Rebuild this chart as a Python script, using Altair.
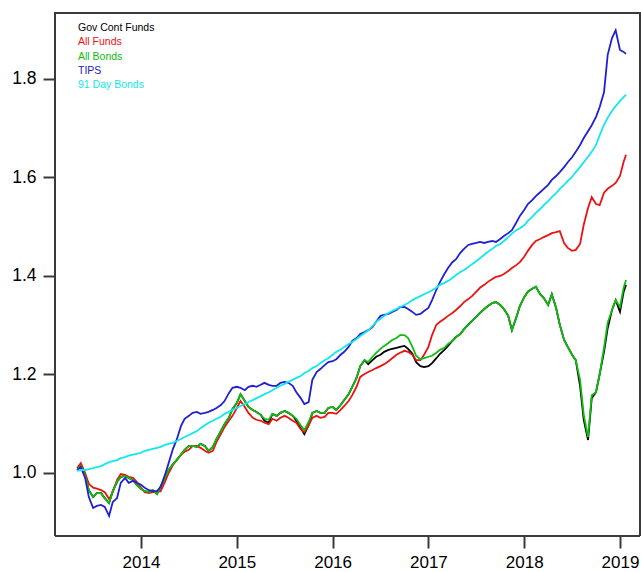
import altair as alt
import pandas as pd

# Semi-monthly observation dates, May 2013 through late January 2019
dates = []
for yr in range(2013, 2019):
    for mo in range(1, 13):
        if (yr, mo) < (2013, 5):
            continue
        for dy in (1, 15):
            dates.append(f"{yr}-{mo:02d}-{dy:02d}")
dates += ["2019-01-01", "2019-01-15", "2019-01-24"]

series_names = ["Gov Cont Funds", "All Funds", "All Bonds", "TIPS", "91 Day Bonds"]
series_colors = ["#000000", "#ee1111", "#11bb11", "#2020d0", "#11e8ee"]

gov_cont_funds = [
    1.006, 1.014, 0.994, 0.965, 0.951, 0.959, 0.959, 0.949, 0.939, 0.963,
    0.982, 0.992, 0.994, 0.990, 0.986, 0.976, 0.968, 0.963, 0.961, 0.965,
    0.957, 0.972, 0.990, 1.006, 1.018, 1.026, 1.037, 1.047, 1.055, 1.055,
    1.053, 1.059, 1.055, 1.045, 1.053, 1.069, 1.085, 1.099, 1.112, 1.130,
    1.142, 1.160, 1.146, 1.134, 1.128, 1.124, 1.118, 1.106, 1.102, 1.120,
    1.116, 1.122, 1.126, 1.122, 1.116, 1.106, 1.091, 1.079, 1.097, 1.122,
    1.126, 1.122, 1.122, 1.132, 1.134, 1.128, 1.138, 1.148, 1.160, 1.175,
    1.193, 1.217, 1.229, 1.221, 1.229, 1.236, 1.240, 1.246, 1.250, 1.252,
    1.254, 1.256, 1.258, 1.252, 1.242, 1.225, 1.217, 1.215, 1.217, 1.223,
    1.233, 1.242, 1.250, 1.258, 1.268, 1.276, 1.282, 1.292, 1.301, 1.309,
    1.317, 1.325, 1.333, 1.339, 1.345, 1.347, 1.341, 1.333, 1.319, 1.290,
    1.315, 1.339, 1.357, 1.368, 1.374, 1.378, 1.363, 1.355, 1.341, 1.363,
    1.335, 1.301, 1.270, 1.256, 1.240, 1.229, 1.177, 1.108, 1.067, 1.152,
    1.164, 1.201, 1.246, 1.294, 1.331, 1.351, 1.327, 1.368, 1.382,
]

all_funds = [
    1.010, 1.020, 1.000, 0.978, 0.970, 0.968, 0.965, 0.961, 0.947, 0.961,
    0.986, 0.998, 0.996, 0.992, 0.990, 0.982, 0.970, 0.961, 0.959, 0.961,
    0.961, 0.963, 0.982, 1.000, 1.016, 1.026, 1.037, 1.043, 1.047, 1.055,
    1.055, 1.051, 1.045, 1.041, 1.045, 1.063, 1.079, 1.093, 1.106, 1.116,
    1.132, 1.146, 1.134, 1.122, 1.112, 1.108, 1.106, 1.102, 1.099, 1.110,
    1.106, 1.112, 1.116, 1.112, 1.106, 1.102, 1.089, 1.083, 1.097, 1.112,
    1.116, 1.112, 1.114, 1.122, 1.122, 1.120, 1.128, 1.136, 1.146, 1.158,
    1.175, 1.195, 1.201, 1.205, 1.209, 1.213, 1.217, 1.221, 1.227, 1.233,
    1.240, 1.244, 1.248, 1.246, 1.240, 1.229, 1.229, 1.240, 1.256, 1.280,
    1.301, 1.307, 1.313, 1.319, 1.325, 1.331, 1.339, 1.347, 1.353, 1.359,
    1.368, 1.376, 1.382, 1.388, 1.394, 1.398, 1.400, 1.404, 1.410, 1.416,
    1.422, 1.428, 1.439, 1.451, 1.463, 1.471, 1.475, 1.479, 1.483, 1.487,
    1.489, 1.491, 1.467, 1.457, 1.451, 1.453, 1.465, 1.504, 1.538, 1.560,
    1.546, 1.544, 1.569, 1.577, 1.583, 1.589, 1.603, 1.632, 1.646,
]

all_bonds = [
    1.006, 1.014, 0.994, 0.965, 0.951, 0.959, 0.959, 0.949, 0.939, 0.963,
    0.982, 0.992, 0.994, 0.990, 0.986, 0.976, 0.968, 0.963, 0.961, 0.965,
    0.957, 0.972, 0.990, 1.006, 1.018, 1.026, 1.037, 1.047, 1.055, 1.055,
    1.053, 1.059, 1.055, 1.045, 1.053, 1.069, 1.085, 1.099, 1.112, 1.130,
    1.142, 1.160, 1.146, 1.134, 1.128, 1.124, 1.118, 1.110, 1.108, 1.120,
    1.116, 1.122, 1.126, 1.122, 1.116, 1.110, 1.097, 1.087, 1.104, 1.122,
    1.126, 1.122, 1.122, 1.132, 1.134, 1.128, 1.138, 1.148, 1.160, 1.175,
    1.193, 1.217, 1.229, 1.225, 1.236, 1.244, 1.252, 1.258, 1.264, 1.270,
    1.274, 1.280, 1.280, 1.274, 1.256, 1.238, 1.231, 1.233, 1.236, 1.238,
    1.244, 1.250, 1.254, 1.262, 1.268, 1.276, 1.282, 1.292, 1.301, 1.309,
    1.317, 1.325, 1.333, 1.339, 1.345, 1.347, 1.341, 1.333, 1.319, 1.290,
    1.315, 1.339, 1.357, 1.368, 1.374, 1.378, 1.363, 1.355, 1.341, 1.363,
    1.335, 1.301, 1.270, 1.256, 1.240, 1.229, 1.189, 1.118, 1.073, 1.158,
    1.164, 1.201, 1.254, 1.305, 1.331, 1.351, 1.337, 1.376, 1.392,
]

tips = [
    1.006, 1.012, 0.990, 0.951, 0.929, 0.933, 0.935, 0.931, 0.913, 0.941,
    0.949, 0.980, 0.990, 0.980, 0.984, 0.980, 0.976, 0.970, 0.965, 0.963,
    0.963, 0.972, 0.996, 1.020, 1.049, 1.067, 1.095, 1.110, 1.116, 1.122,
    1.124, 1.120, 1.122, 1.124, 1.128, 1.132, 1.138, 1.146, 1.162, 1.173,
    1.175, 1.173, 1.168, 1.175, 1.177, 1.175, 1.179, 1.183, 1.179, 1.177,
    1.177, 1.183, 1.185, 1.183, 1.177, 1.164, 1.152, 1.140, 1.144, 1.189,
    1.205, 1.211, 1.219, 1.225, 1.227, 1.231, 1.240, 1.246, 1.256, 1.268,
    1.274, 1.282, 1.286, 1.290, 1.296, 1.307, 1.319, 1.321, 1.323, 1.327,
    1.331, 1.337, 1.337, 1.333, 1.327, 1.321, 1.323, 1.329, 1.335, 1.351,
    1.372, 1.388, 1.404, 1.416, 1.428, 1.434, 1.447, 1.455, 1.463, 1.465,
    1.467, 1.469, 1.467, 1.469, 1.471, 1.469, 1.475, 1.481, 1.487, 1.493,
    1.508, 1.522, 1.534, 1.546, 1.554, 1.562, 1.570, 1.577, 1.585, 1.595,
    1.603, 1.611, 1.621, 1.631, 1.641, 1.652, 1.666, 1.680, 1.694, 1.706,
    1.723, 1.743, 1.773, 1.849, 1.883, 1.899, 1.859, 1.855, 1.851,
]

day91_bonds = [
    1.004, 1.006, 1.006, 1.008, 1.010, 1.012, 1.014, 1.018, 1.022, 1.024,
    1.026, 1.030, 1.032, 1.035, 1.037, 1.039, 1.041, 1.045, 1.047, 1.049,
    1.051, 1.053, 1.057, 1.059, 1.061, 1.065, 1.069, 1.073, 1.077, 1.081,
    1.085, 1.091, 1.097, 1.102, 1.106, 1.110, 1.114, 1.120, 1.124, 1.128,
    1.132, 1.136, 1.140, 1.144, 1.148, 1.152, 1.156, 1.160, 1.164, 1.168,
    1.173, 1.177, 1.181, 1.185, 1.189, 1.193, 1.197, 1.203, 1.207, 1.213,
    1.217, 1.223, 1.229, 1.233, 1.240, 1.246, 1.250, 1.256, 1.262, 1.266,
    1.272, 1.278, 1.284, 1.290, 1.298, 1.307, 1.313, 1.319, 1.325, 1.329,
    1.333, 1.337, 1.341, 1.345, 1.351, 1.355, 1.359, 1.363, 1.367, 1.371,
    1.376, 1.382, 1.386, 1.390, 1.396, 1.402, 1.408, 1.412, 1.418, 1.424,
    1.430, 1.436, 1.443, 1.449, 1.455, 1.461, 1.465, 1.471, 1.479, 1.486,
    1.493, 1.497, 1.503, 1.512, 1.520, 1.528, 1.536, 1.544, 1.552, 1.560,
    1.568, 1.577, 1.585, 1.593, 1.601, 1.611, 1.621, 1.631, 1.642, 1.652,
    1.666, 1.686, 1.707, 1.721, 1.735, 1.745, 1.755, 1.763, 1.768,
]

year_ticks = [2014, 2015, 2016, 2017, 2018, 2019]
value_ticks = [1.0, 1.2, 1.4, 1.6, 1.8]


def decimal_year(s):
    y, m, d = (int(p) for p in s.split("-"))
    return y + (m - 1) / 12 + (d - 1) / 365


frames = []
for name, vals in zip(series_names,
                      [gov_cont_funds, all_funds, all_bonds, tips, day91_bonds]):
    frames.append(pd.DataFrame({
        "t": [decimal_year(d) for d in dates],
        "value": vals,
        "series": name,
    }))
df = pd.concat(frames, ignore_index=True)

AXIS_GREY = "#3a3a3a"
FONT = "Liberation Sans"
PLOT_W, PLOT_H = 585, 524

x_enc = alt.X(
    "t:Q",
    scale=alt.Scale(domain=[2013.102, 2019.209], nice=False, zero=False),
    axis=alt.Axis(
        values=year_ticks, format="d", title=None, grid=False, domain=False,
        tickSize=12, tickWidth=2, tickColor=AXIS_GREY,
        labelFont=FONT, labelFontSize=17, labelColor="#000000",
        labelPadding=6, labelFlush=False, labelOverlap=False,
    ),
)
y_enc = alt.Y(
    "value:Q",
    scale=alt.Scale(domain=[0.872, 1.936], nice=False, zero=False),
    axis=alt.Axis(
        values=value_ticks, format=".1f", title=None, grid=False, domain=False,
        tickSize=12, tickWidth=2, tickColor=AXIS_GREY,
        labelFont=FONT, labelFontSize=17.5, labelColor="#000000",
        labelPadding=7,
    ),
)
color_enc = alt.Color(
    "series:N",
    scale=alt.Scale(domain=series_names, range=series_colors),
    legend=None,
)

# One layer per series so drawing order follows the series list
line_layers = [
    alt.Chart(df)
    .transform_filter(alt.datum.series == name)
    .mark_line(strokeWidth=1.8, clip=True)
    .encode(x=x_enc, y=y_enc, color=color_enc)
    for name in series_names
]

# Plot frame: four edges drawn as rules
edge_df = pd.DataFrame({"k": [0]})
frame_edges = [
    alt.Chart(edge_df).mark_rule(color=AXIS_GREY, strokeWidth=2)
    .encode(x=alt.value(0), x2=alt.value(PLOT_W), y=alt.value(1)),
    alt.Chart(edge_df).mark_rule(color=AXIS_GREY, strokeWidth=2)
    .encode(x=alt.value(0), x2=alt.value(PLOT_W), y=alt.value(PLOT_H)),
    alt.Chart(edge_df).mark_rule(color=AXIS_GREY, strokeWidth=2)
    .encode(y=alt.value(0), y2=alt.value(PLOT_H), x=alt.value(0)),
    alt.Chart(edge_df).mark_rule(color=AXIS_GREY, strokeWidth=2)
    .encode(y=alt.value(0), y2=alt.value(PLOT_H), x=alt.value(PLOT_W)),
]

# Key in the upper-left corner: coloured names, no symbols
legend_rows = [16, 30, 45, 59, 73]
key_layers = [
    alt.Chart(pd.DataFrame({"label": [name]}))
    .mark_text(align="left", baseline="middle", font=FONT, fontSize=10.5,
               color=col)
    .encode(x=alt.value(23), y=alt.value(row), text="label:N")
    for name, col, row in zip(series_names, series_colors, legend_rows)
]

chart = (
    alt.layer(*line_layers, *frame_edges, *key_layers)
    .properties(
        width=PLOT_W,
        height=PLOT_H,
        autosize=alt.AutoSizeParams(type="none"),
        padding={"left": 55, "top": 12, "right": 1, "bottom": 36},
        background="#ffffff",
    )
    .configure_view(stroke=None)
)

chart.save("out.html", embed_options={"renderer": "svg", "actions": False})
